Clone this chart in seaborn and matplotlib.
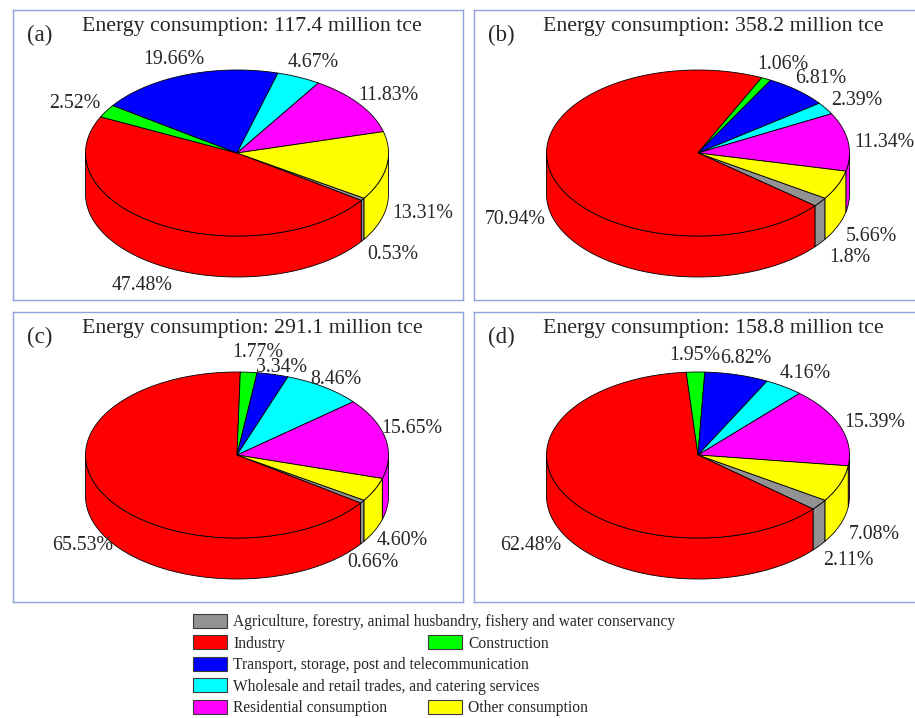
import numpy as np
import matplotlib
matplotlib.use("Agg")
import matplotlib.pyplot as plt
from matplotlib.patches import Polygon, Patch
import seaborn as sns

# ============================================
# DATOS
# ============================================
sectors = [
    "Agriculture, forestry, animal husbandry, fishery and water conservancy",
    "Industry",
    "Construction",
    "Transport, storage, post and telecommunication",
    "Wholesale and retail trades, and catering services",
    "Residential consumption",
    "Other consumption",
]
colors = ["#929292", "#FF0000", "#00FF00", "#0000FF", "#00FFFF", "#FF00FF", "#FFFF00"]

panel_tags = ["(a)", "(b)", "(c)", "(d)"]
totals = [117.4, 358.2, 291.1, 158.8]  # million tce

share_a = [0.53, 47.48, 2.52, 19.66, 4.67, 11.83, 13.31]
share_b = [1.8, 70.94, 1.06, 6.81, 2.39, 11.34, 5.66]
share_c = [0.66, 65.53, 1.77, 3.34, 8.46, 15.65, 4.60]
share_d = [2.11, 62.48, 1.95, 6.82, 4.16, 15.39, 7.08]
label_a = ["0.53%", "47.48%", "2.52%", "19.66%", "4.67%", "11.83%", "13.31%"]
label_b = ["1.8%", "70.94%", "1.06%", "6.81%", "2.39%", "11.34%", "5.66%"]
label_c = ["0.66%", "65.53%", "1.77%", "3.34%", "8.46%", "15.65%", "4.60%"]
label_d = ["2.11%", "62.48%", "1.95%", "6.82%", "4.16%", "15.39%", "7.08%"]

# ============================================
# PARAMETROS
# ============================================
W, H = 915, 718
U = 151.5            # radio horizontal (px)
SY = 83 / U          # achatamiento
DEPTH = 41 / U       # grosor del cilindro
START = -33          # angulo inicial (grados), sentido horario
R_LABEL = 1.24
LABEL_DROP = 3       # px
SERIF = ["Liberation Serif", "DejaVu Serif"]

# caja de cada panel (x0, y0, x1, y1) y centro del pastel, en px
boxes = [(13, 10, 463, 300), (474, 10, 917, 300),
         (13, 312, 463, 602), (474, 312, 917, 602)]
centers = [(237, 153), (698, 153), (237, 455), (698, 455)]

# en (c) las etiquetas fueron movidas a mano (px, +y hacia abajo)
nudge_c = [(-20, 6), (13, 0), (6, -3), (0, 10), (-9, 6), (-9, -9), (-5, -2)]
no_nudge = [(0, 0)] * 7


def arc(t_from, t_to, n=120):
    t = np.radians(np.linspace(t_from, t_to, n))
    return np.cos(t), SY * np.sin(t)


def draw_pie3d(ax, values, labels, nudges):
    vals = np.array(values, dtype=float)
    angs = vals / vals.sum() * 360
    t0 = START
    spans = []
    for a in angs:
        spans.append((t0 - a, t0))
        t0 -= a

    # paredes laterales (solo mitad frontal)
    for (lo, hi), c in zip(spans, colors):
        for k in range(-2, 2):
            f_lo, f_hi = -180 + 360 * k, 360 * k
            a, b = max(lo, f_lo), min(hi, f_hi)
            if b - a <= 0:
                continue
            x, y = arc(a, b)
            pts = np.column_stack([np.r_[x, x[::-1]], np.r_[y, y[::-1] - DEPTH]])
            ax.add_patch(Polygon(pts, closed=True, facecolor=c, edgecolor="black",
                                 lw=0.6, zorder=2))

    # cara superior
    for (lo, hi), c in zip(spans, colors):
        x, y = arc(lo, hi)
        pts = np.column_stack([np.r_[0, x], np.r_[0, y]])
        ax.add_patch(Polygon(pts, closed=True, facecolor=c, edgecolor="black",
                             lw=0.6, zorder=3))

    # etiquetas
    for (lo, hi), lab, (ndx, ndy) in zip(spans, labels, nudges):
        m = np.radians((lo + hi) / 2)
        x = R_LABEL * np.cos(m) + ndx / U
        y = R_LABEL * SY * np.sin(m) - (ndy + LABEL_DROP) / U
        if np.sin(m) < 0:
            y -= DEPTH
        ax.text(x, y, lab, ha="center", va="center", fontsize=14.3,
                family=SERIF, zorder=5)


# ============================================
# FIGURA
# ============================================
sns.set_theme(style="white")
plt.rcParams["font.family"] = SERIF

fig = plt.figure(figsize=(W / 100, H / 100), dpi=100)
fig.patch.set_facecolor("white")

all_shares = [share_a, share_b, share_c, share_d]
all_labels = [label_a, label_b, label_c, label_d]
all_nudges = [no_nudge, no_nudge, nudge_c, no_nudge]

for i in range(4):
    x0, y0, x1, y1 = boxes[i]
    cx, cy = centers[i]
    ax = fig.add_axes([x0 / W, 1 - y1 / H, (x1 - x0) / W, (y1 - y0) / H])
    ax.set_xlim((x0 - cx) / U, (x1 - cx) / U)
    ax.set_ylim(-(y1 - cy) / U, (cy - y0) / U)
    ax.set_xticks([])
    ax.set_yticks([])
    ax.set_facecolor("white")
    for s in ax.spines.values():
        s.set_color("#8EA3DB")
        s.set_linewidth(1.0)
        s.set_visible(True)
    if i in (1, 3):
        ax.spines["right"].set_visible(False)

    draw_pie3d(ax, all_shares[i], all_labels[i], all_nudges[i])

    w, h = x1 - x0, y1 - y0
    ax.text(239 / w, 1 - 17 / h, f"Energy consumption: {totals[i]} million tce",
            transform=ax.transAxes, ha="center", va="center", fontsize=15.7)
    ax.text(27 / w, 1 - 25 / h, panel_tags[i], transform=ax.transAxes,
            ha="center", va="center", fontsize=16.5)

# ============================================
# LEYENDA
# ============================================
def box(c):
    return Patch(facecolor=c, edgecolor="#3A3A3A", lw=0.8)

blank = Patch(facecolor="none", edgecolor="none")

col1 = [0, 1, 3, 4, 5]
h1 = [box(colors[j]) for j in col1]
l1 = [sectors[j] for j in col1]
leg_kw = dict(frameon=False, fontsize=11.2, handlelength=2.2, handleheight=1.0,
              handletextpad=0.4, labelspacing=0.33, borderpad=0, borderaxespad=0,
              loc="upper left", bbox_transform=fig.transFigure)
leg1 = fig.legend(h1, l1, bbox_to_anchor=(193 / W, 1 - 614 / H), **leg_kw)

h2 = [blank, box(colors[2]), blank, blank, box(colors[6])]
l2 = [" ", sectors[2], " ", " ", sectors[6]]
leg2 = fig.legend(h2, l2, bbox_to_anchor=(428 / W, 1 - 614 / H), **leg_kw)

fig.savefig("out.png", dpi=100, facecolor="white")
